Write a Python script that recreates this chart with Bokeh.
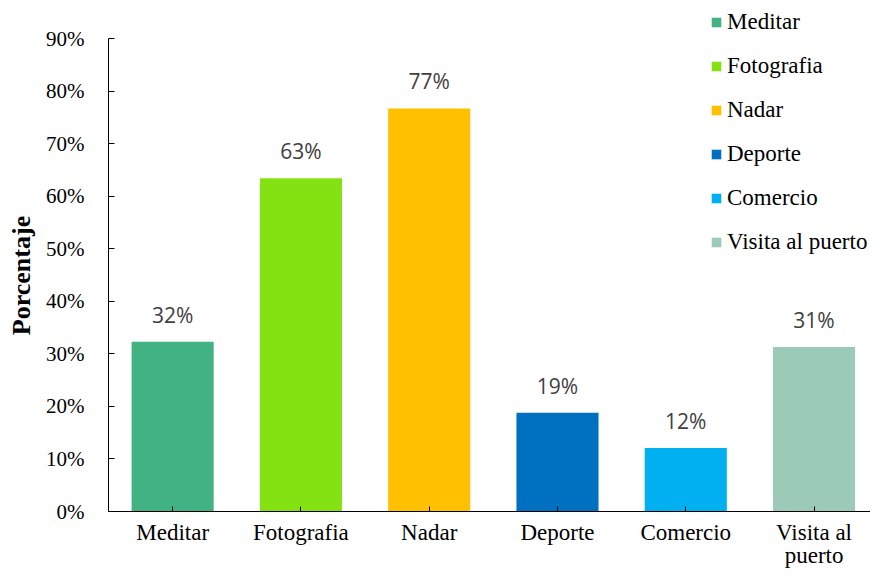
from bokeh.plotting import figure
from bokeh.models import (ColumnDataSource, Range1d, FixedTicker, LabelSet,
                          Legend, LegendItem, NumeralTickFormatter)
from bokeh.core.properties import value
from bokeh.embed import file_html
from bokeh.resources import INLINE

categories = ["Meditar", "Fotografia", "Nadar", "Deporte", "Comercio", "Visita al puerto"]
tick_labels = ["Meditar", "Fotografia", "Nadar", "Deporte", "Comercio", "Visita al\npuerto"]
values = [0.323, 0.634, 0.767, 0.188, 0.121, 0.313]
colors = ["#43B283", "#84E112", "#FFC000", "#0070C0", "#00B0F0", "#9CCAB9"]
y_ticks = [0.0, 0.1, 0.2, 0.3, 0.4, 0.5, 0.6, 0.7, 0.8, 0.9]
y_title = "Porcentaje"

xs = [i + 0.5 for i in range(len(categories))]
labels = [f"{round(v * 100)}%" for v in values]

src = ColumnDataSource(dict(x=xs, top=values, label=labels))

# frame spans the full top of the figure so the legend is not clipped;
# the y axis itself is bounded to 0..90%
p = figure(width=870, height=570, output_backend="svg", toolbar_location=None,
           x_range=Range1d(0, 5.94), y_range=Range1d(0, 0.9 * 511 / 473),
           min_border_left=108, min_border_right=0, min_border_top=0,
           min_border_bottom=58, outline_line_color=None)
p.xgrid.visible = False
p.ygrid.visible = False

renderers = []
for i in range(len(categories)):
    s = ColumnDataSource(dict(x=[xs[i]], top=[values[i]]))
    r = p.vbar(x="x", top="top", width=0.64, bottom=0, source=s,
               fill_color=colors[i], line_color=None)
    renderers.append(r)

lbl = LabelSet(x="x", y="top", text="label", source=src, text_align="center",
               text_baseline="alphabetic", y_offset=19, text_font=value("Open Sans"),
               text_font_size=value("21px"), text_color=value("#404040"))
p.add_layout(lbl)

# axes
p.xaxis.ticker = FixedTicker(ticks=xs)
p.xaxis.major_label_overrides = {x: t for x, t in zip(xs, tick_labels)}
p.xaxis.major_tick_in = 5
p.xaxis.major_tick_out = 0
p.xaxis.minor_tick_line_color = None
p.xaxis.major_label_standoff = 8
p.xaxis.major_label_text_font = "Liberation Serif"
p.xaxis.major_label_text_font_size = "23px"
p.xaxis.major_label_text_line_height = 0.92
p.xaxis.major_label_text_color = "black"
p.xaxis.axis_line_color = "black"
p.xaxis.major_tick_line_color = "black"

p.yaxis.ticker = FixedTicker(ticks=y_ticks)
p.yaxis.bounds = (0, 0.9)
p.yaxis.formatter = NumeralTickFormatter(format="0%")
p.yaxis.major_tick_in = 6
p.yaxis.major_tick_out = 0
p.yaxis.minor_tick_line_color = None
p.yaxis.major_label_standoff = 24
p.yaxis.major_label_text_font = "Liberation Serif"
p.yaxis.major_label_text_font_size = "21px"
p.yaxis.major_label_text_color = "black"
p.yaxis.axis_line_color = "black"
p.yaxis.major_tick_line_color = "black"
# trailing no-break spaces keep the title centred on the 0-90% span
p.yaxis.axis_label = y_title + "\u00a0" * 6
p.yaxis.axis_label_text_font = "Liberation Serif"
p.yaxis.axis_label_text_font_style = "bold"
p.yaxis.axis_label_text_font_size = "26px"
p.yaxis.axis_label_text_color = "black"
p.yaxis.axis_label_standoff = 7

legend = Legend(items=[LegendItem(label=c, renderers=[r]) for c, r in zip(categories, renderers)],
                location=(602, 256), glyph_width=12, glyph_height=12,
                label_height=26, spacing=18, padding=0, label_standoff=5,
                label_text_font="Liberation Serif", label_text_font_size="23px",
                label_text_color="black", border_line_color=None,
                background_fill_alpha=0, margin=0)
p.add_layout(legend)

open("out.html", "w").write(file_html(p, INLINE))
